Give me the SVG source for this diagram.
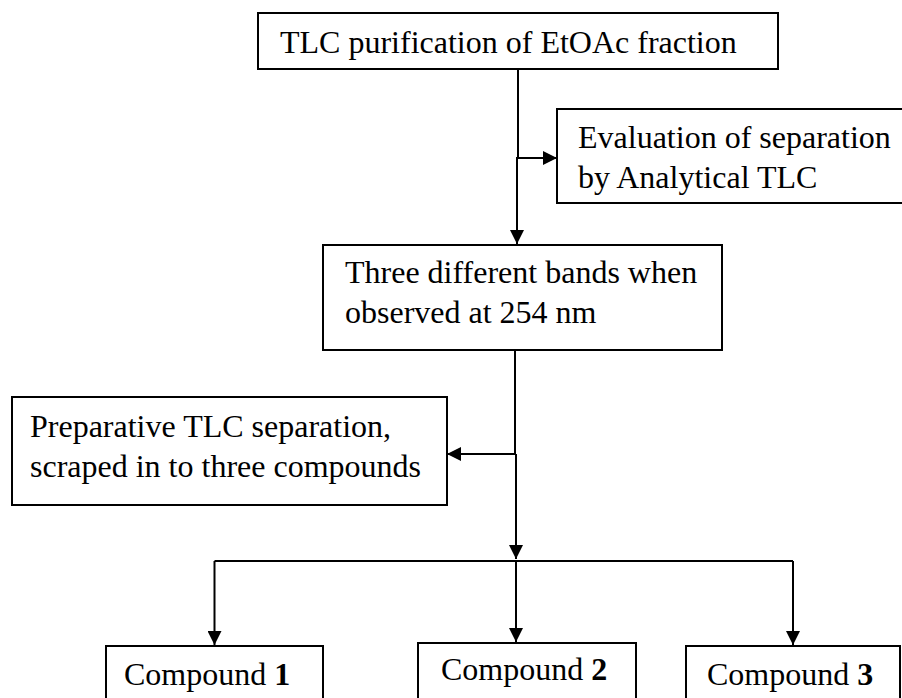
<svg xmlns="http://www.w3.org/2000/svg" width="902" height="698" viewBox="0 0 902 698">
  <defs>
    <style>
      .box { fill: #ffffff; stroke: #000000; stroke-width: 2; }
      .lbl { font-family: "Liberation Serif", "Times New Roman", serif; font-size: 32px; fill: #000000; }
      .num { font-weight: bold; }
      .wire { fill: none; stroke: #000000; stroke-width: 2; }
    </style>
    <marker id="head" viewBox="0 0 14 14" refX="14" refY="7" markerWidth="14" markerHeight="14" markerUnits="userSpaceOnUse" orient="auto">
      <path d="M0,0 L14,7 L0,14 Z" fill="#000000"/>
    </marker>
  </defs>
  <rect width="902" height="698" fill="#ffffff"/>

  <g id="connectors">
    <!-- from TLC purification down, with side branch to evaluation -->
    <path class="wire" d="M518,69 L518,158"/>
    <path class="wire" d="M516,158 L557,158" marker-end="url(#head)"/>
    <path class="wire" d="M517,158 L517,244" marker-end="url(#head)"/>
    <!-- from bands down, with side branch to preparative TLC -->
    <path class="wire" d="M515,350 L515,454"/>
    <path class="wire" d="M516,454 L447,454" marker-end="url(#head)"/>
    <path class="wire" d="M516,454 L516,559" marker-end="url(#head)"/>
    <!-- split to the three compounds -->
    <path class="wire" d="M214.5,561 L793,561"/>
    <path class="wire" d="M214.5,561 L214.5,645" marker-end="url(#head)"/>
    <path class="wire" d="M516,561 L516,642" marker-end="url(#head)"/>
    <path class="wire" d="M793,561 L793,645" marker-end="url(#head)"/>
  </g>

  <g id="tlc-purification">
    <rect class="box" x="258" y="13" width="520" height="56"/>
    <text class="lbl" x="280" y="53">TLC purification of EtOAc fraction</text>
  </g>

  <g id="evaluation">
    <rect class="box" x="557" y="109" width="360" height="94"/>
    <text class="lbl" x="578" y="148">Evaluation of separation</text>
    <text class="lbl" x="578" y="188">by Analytical TLC</text>
  </g>

  <g id="three-bands">
    <rect class="box" x="323" y="245" width="399" height="105"/>
    <text class="lbl" x="345" y="283">Three different bands when</text>
    <text class="lbl" x="345" y="323">observed at 254 nm</text>
  </g>

  <g id="preparative-tlc">
    <rect class="box" x="12" y="397" width="435" height="108"/>
    <text class="lbl" x="30" y="437">Preparative TLC separation,</text>
    <text class="lbl" x="30" y="477">scraped in to three compounds</text>
  </g>

  <g id="compound-1">
    <rect class="box" x="106" y="646" width="217" height="70"/>
    <text class="lbl" x="124" y="685">Compound <tspan class="num">1</tspan></text>
  </g>

  <g id="compound-2">
    <rect class="box" x="418" y="643" width="218" height="70"/>
    <text class="lbl" x="441" y="680">Compound <tspan class="num">2</tspan></text>
  </g>

  <g id="compound-3">
    <rect class="box" x="686" y="646" width="214" height="70"/>
    <text class="lbl" x="707" y="685">Compound <tspan class="num">3</tspan></text>
  </g>
</svg>
